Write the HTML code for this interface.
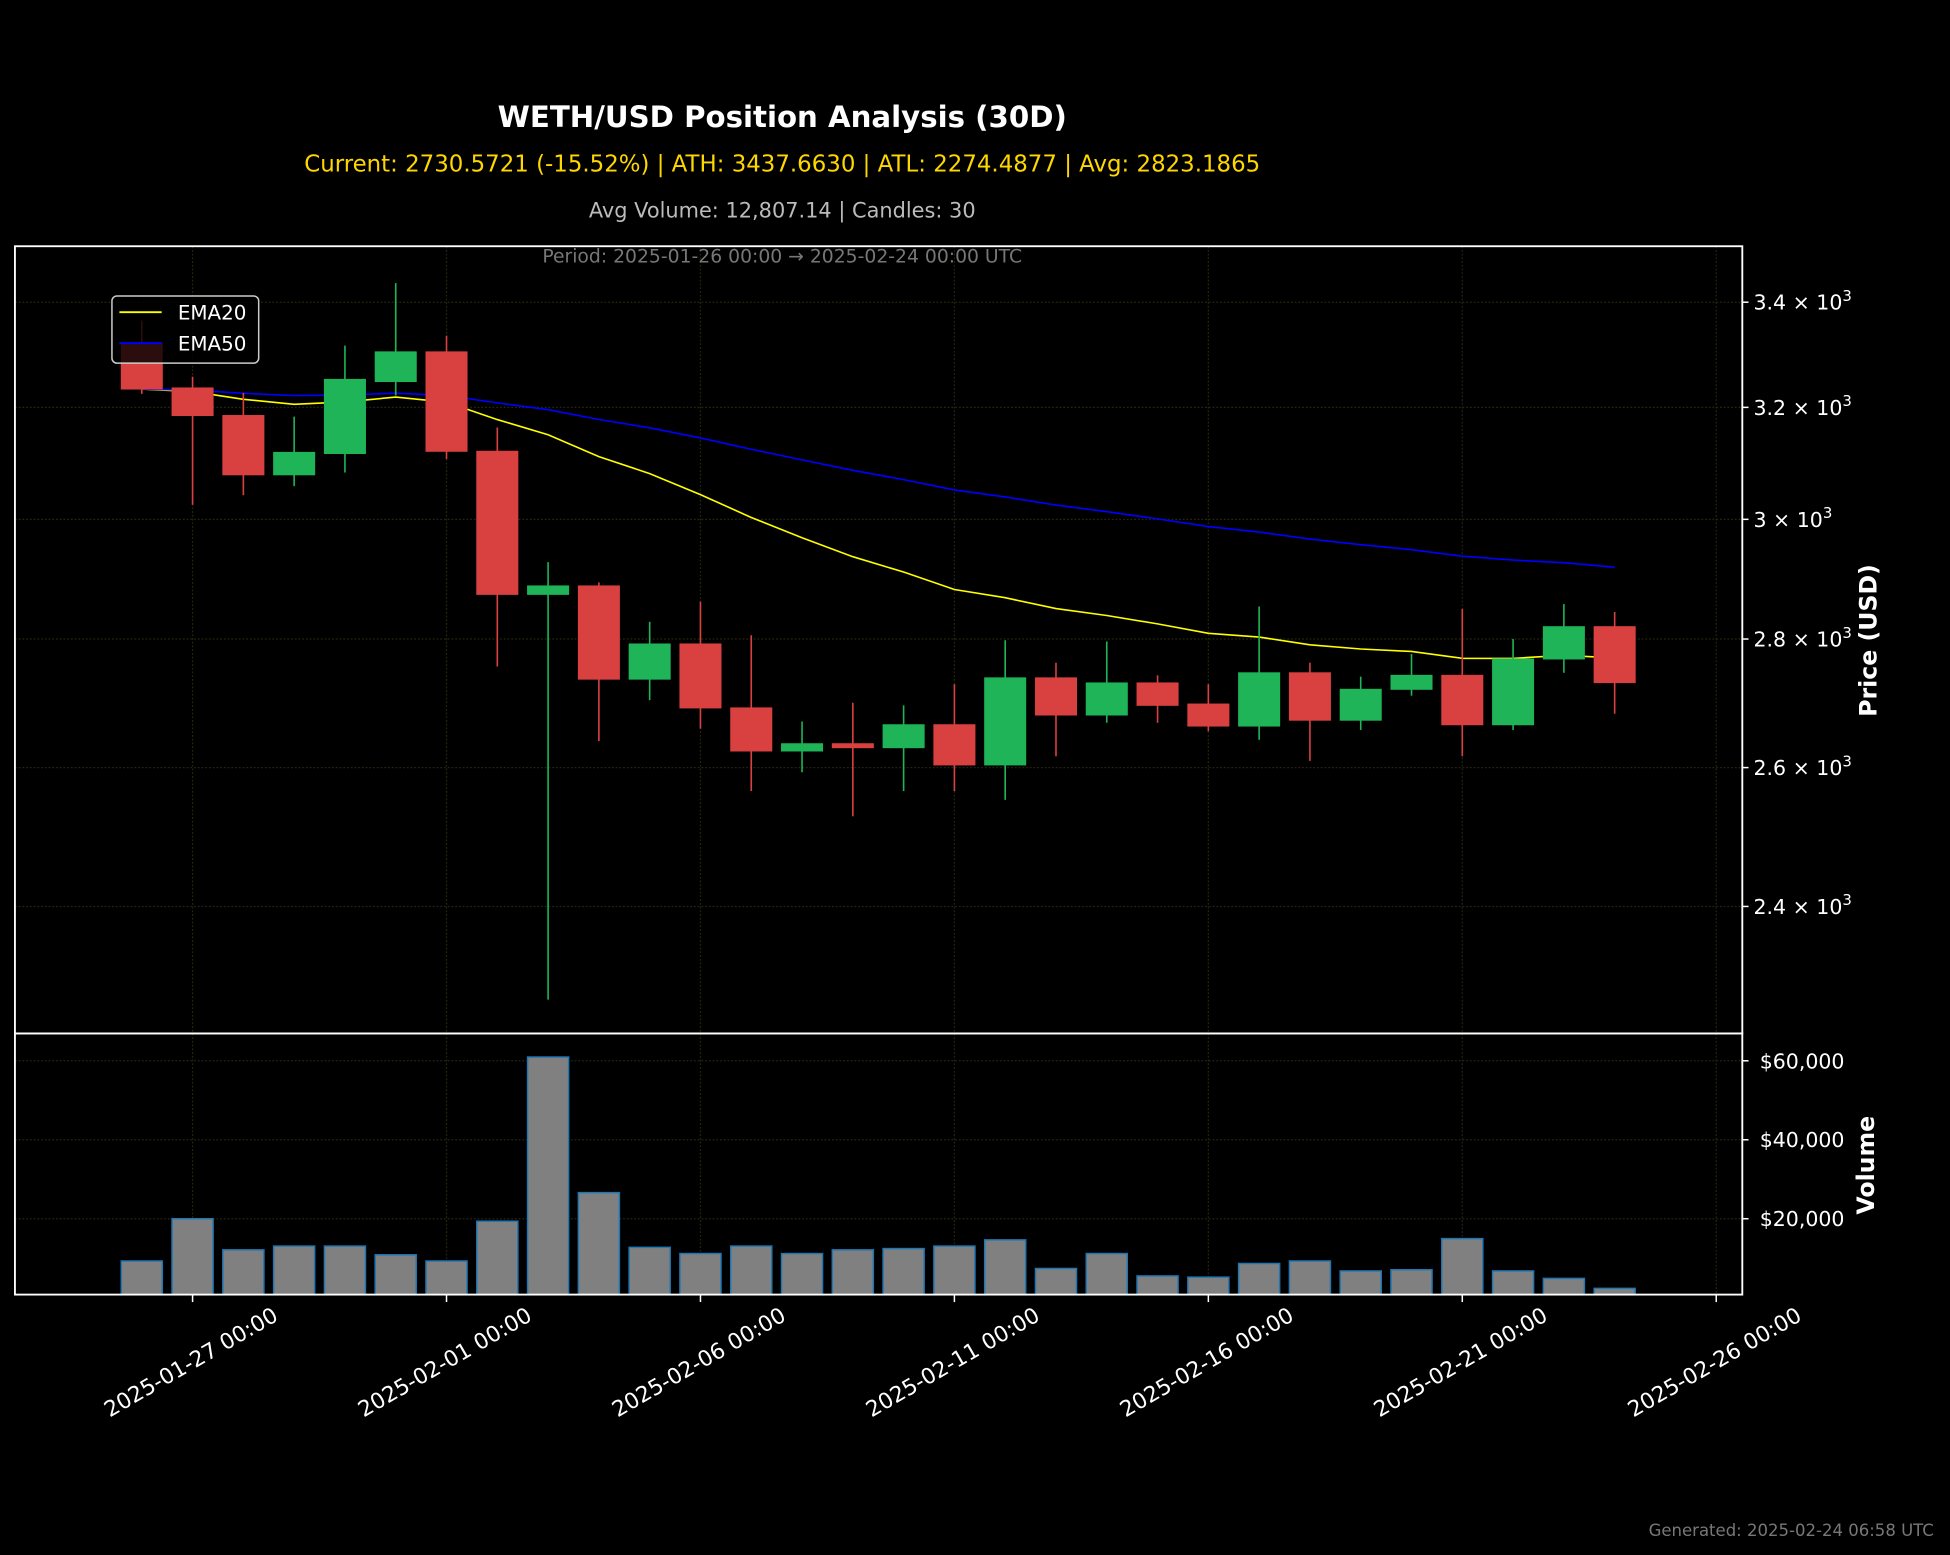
<!DOCTYPE html>
<html><head><meta charset="utf-8"><style>
html,body{margin:0;padding:0;background:#000;}
svg{display:block;}
text{font-family:"DejaVu Sans","Liberation Sans",sans-serif;}
</style></head><body>
<svg id="chart" width="1950" height="1555" viewBox="0 0 1568 1250.4" xmlns="http://www.w3.org/2000/svg">
<rect width="1568" height="1250.4" fill="#000"/>
<text x="629" y="102" text-anchor="middle" fill="#fff" font-size="23.5" font-weight="bold">WETH/USD Position Analysis (30D)</text>
<text x="629" y="138" text-anchor="middle" fill="#FFD700" font-size="18.4">Current: 2730.5721 (-15.52%) | ATH: 3437.6630 | ATL: 2274.4877 | Avg: 2823.1865</text>
<text x="629" y="175" text-anchor="middle" fill="#bbbbbb" font-size="16.8">Avg Volume: 12,807.14 | Candles: 30</text>
<g id="grid"></g>
<g id="vol"></g>
<g id="ema"></g>
<g id="candles"></g>
<text x="629" y="211" text-anchor="middle" fill="#777" font-size="15.1">Period: 2025-01-26 00:00 → 2025-02-24 00:00 UTC</text>
<rect x="12" y="198" width="1389" height="633" fill="none" stroke="#fff" stroke-width="1.5"/>
<rect x="12" y="831" width="1389" height="210" fill="none" stroke="#fff" stroke-width="1.5"/>
<g id="axes"></g>
<g>
<rect x="90" y="238" width="118" height="54" rx="4" fill="rgba(0,0,0,0.8)" stroke="#ccc" stroke-width="1.2"/>
<line x1="96" y1="251" x2="130" y2="251" stroke="#FFFF00" stroke-width="1.5"/>
<text x="143" y="257" fill="#fff" font-size="16">EMA20</text>
<line x1="96" y1="276" x2="130" y2="276" stroke="#0000FF" stroke-width="1.5"/>
<text x="143" y="282" fill="#fff" font-size="16">EMA50</text>
</g>
<text transform="translate(1509,515) rotate(-90)" text-anchor="middle" fill="#fff" font-size="19" font-weight="bold">Price (USD)</text>
<text transform="translate(1507,937) rotate(-90)" text-anchor="middle" fill="#fff" font-size="19" font-weight="bold">Volume</text>
<text x="1555" y="1235" text-anchor="end" fill="#777" font-size="13.3">Generated: 2025-02-24 06:58 UTC</text>
</svg>
<script>
const opens  = [3320,3236,3185,3078,3116,3248,3304,3120,2873,2887,2736,2792,2691,2625,2636,2630,2665,2604,2738,2680,2730,2697,2663,2746,2672,2720,2742,2665,2768,2820];
const highs  = [3364,3257,3227,3183,3316,3437.7,3335,3163,2927,2893,2828,2861,2806,2670,2699,2695,2728,2798,2762,2796,2742,2728,2853,2762,2740,2776,2849,2800,2857,2844];
const lows   = [3225,3025,3042,3058,3082,3222,3106,2756,2274.5,2640,2703,2659,2565,2593,2528,2565,2565,2552,2617,2668,2668,2655,2642,2610,2657,2710,2617,2657,2746,2682];
const closes = [3234,3185,3078,3118,3252,3304,3120,2873,2887,2736,2792,2691,2625,2636,2630,2665,2604,2738,2680,2730,2695,2663,2746,2672,2720,2742,2665,2768,2820,2730.57];
const volumes = [9290,20000,12126,13070,13070,10866,9290,19370,60945,26614,12756,11181,13070,11181,12126,12441,13070,14646,7400,11181,5512,5197,8661,9290,6772,7087,14960,6772,4882,2362];
const priceTicks = [2400,2600,2800,3000,3200,3400];
const priceTickLabels = ["2.4","2.6","2.8","3","3.2","3.4"];
const volTicks = [20000,40000,60000];
const volTickLabels = ["$20,000","$40,000","$60,000"];
const dateTickDays = [1,6,11,16,21,26,31];
const dateTickLabels = ["2025-01-27 00:00","2025-02-01 00:00","2025-02-06 00:00","2025-02-11 00:00","2025-02-16 00:00","2025-02-21 00:00","2025-02-26 00:00"];

const NS="http://www.w3.org/2000/svg";
const xDay = d => 114 + d*40.84;
const yP = p => 243 - 1395*Math.log(p/3400);
const yV = v => 1043.5 - v*63.5/20000;
function mk(tag, attrs, parent){const e=document.createElementNS(NS,tag);for(const k in attrs)e.setAttribute(k,attrs[k]);parent.appendChild(e);return e;}
const grid=document.getElementById('grid'), axes=document.getElementById('axes');
const gridCol="#24240f";
dateTickDays.forEach((d,i)=>{
  const x=xDay(d);
  const g1=mk('line',{x1:x,y1:198,x2:x,y2:1041,stroke:gridCol,'stroke-width':1,'stroke-dasharray':'1.5,1.5'},grid);
  
  
  mk('line',{x1:x,y1:1041,x2:x,y2:1047,stroke:'#fff','stroke-width':1.2},axes);
  const t=mk('text',{x:x-1,y:1096,'text-anchor':'middle','dominant-baseline':'central',fill:'#fff','font-size':17.5,transform:`rotate(-30 ${x-1} 1096)`},axes);
  t.textContent=dateTickLabels[i];
  
  
});
priceTicks.forEach((p,i)=>{
  const y=yP(p);
  const g=mk('line',{x1:12,y1:y,x2:1401,y2:y,stroke:gridCol,'stroke-width':1,'stroke-dasharray':'1.5,1.5'},grid);
  
  
  mk('line',{x1:1401,y1:y,x2:1406,y2:y,stroke:'#fff','stroke-width':1.2},axes);
  const t=mk('text',{x:1410,y:y+6,fill:'#fff','font-size':16.5},axes);
  t.innerHTML=priceTickLabels[i]+' × 10<tspan dy="-7" font-size="12">3</tspan>';
  
  
});
volTicks.forEach((v,i)=>{
  const y=yV(v);
  const g=mk('line',{x1:12,y1:y,x2:1401,y2:y,stroke:gridCol,'stroke-width':1,'stroke-dasharray':'1.5,1.5'},grid);
  
  
  mk('line',{x1:1401,y1:y,x2:1406,y2:y,stroke:'#fff','stroke-width':1.2},axes);
  const t=mk('text',{x:1415,y:y+6,fill:'#fff','font-size':16.5},axes);
  t.textContent=volTickLabels[i];
  
  
});
const vol=document.getElementById('vol');
volumes.forEach((v,i)=>{
  const x=xDay(i), y=yV(v);
  const r=mk('rect',{x:x-16.5,y:y,width:33,height:1041-y,fill:'#808080',stroke:'#1f77b4','stroke-width':1.2},vol);
  
  
});
function ema(arr,n){const a=2/(n+1);const out=[arr[0]];for(let i=1;i<arr.length;i++)out.push(a*arr[i]+(1-a)*out[i-1]);return out;}
const emaG=document.getElementById('ema');
[[ema(closes,20),'#FFFF00','ema20-line'],[ema(closes,50),'#0000FF','ema50-line']].forEach(([s,c,n])=>{
  const pl=mk('polyline',{points:s.map((v,i)=>xDay(i)+','+yP(v)).join(' '),fill:'none',stroke:c,'stroke-width':1.3},emaG);
  
  
});
const cg=document.getElementById('candles');
opens.forEach((o,i)=>{
  const c=closes[i], up=c>=o, col=up?'#1eb457':'#d94040';
  const x=xDay(i);
  const w=mk('line',{x1:x,y1:yP(highs[i]),x2:x,y2:yP(lows[i]),stroke:col,'stroke-width':1.3},cg);
  
  
  const top=yP(Math.max(o,c)), bot=yP(Math.min(o,c));
  const b=mk('rect',{x:x-16.5,y:top,width:33,height:Math.max(bot-top,1.5),fill:col,stroke:col,'stroke-width':0.8},cg);
  
  
});
</script>
</body></html>
